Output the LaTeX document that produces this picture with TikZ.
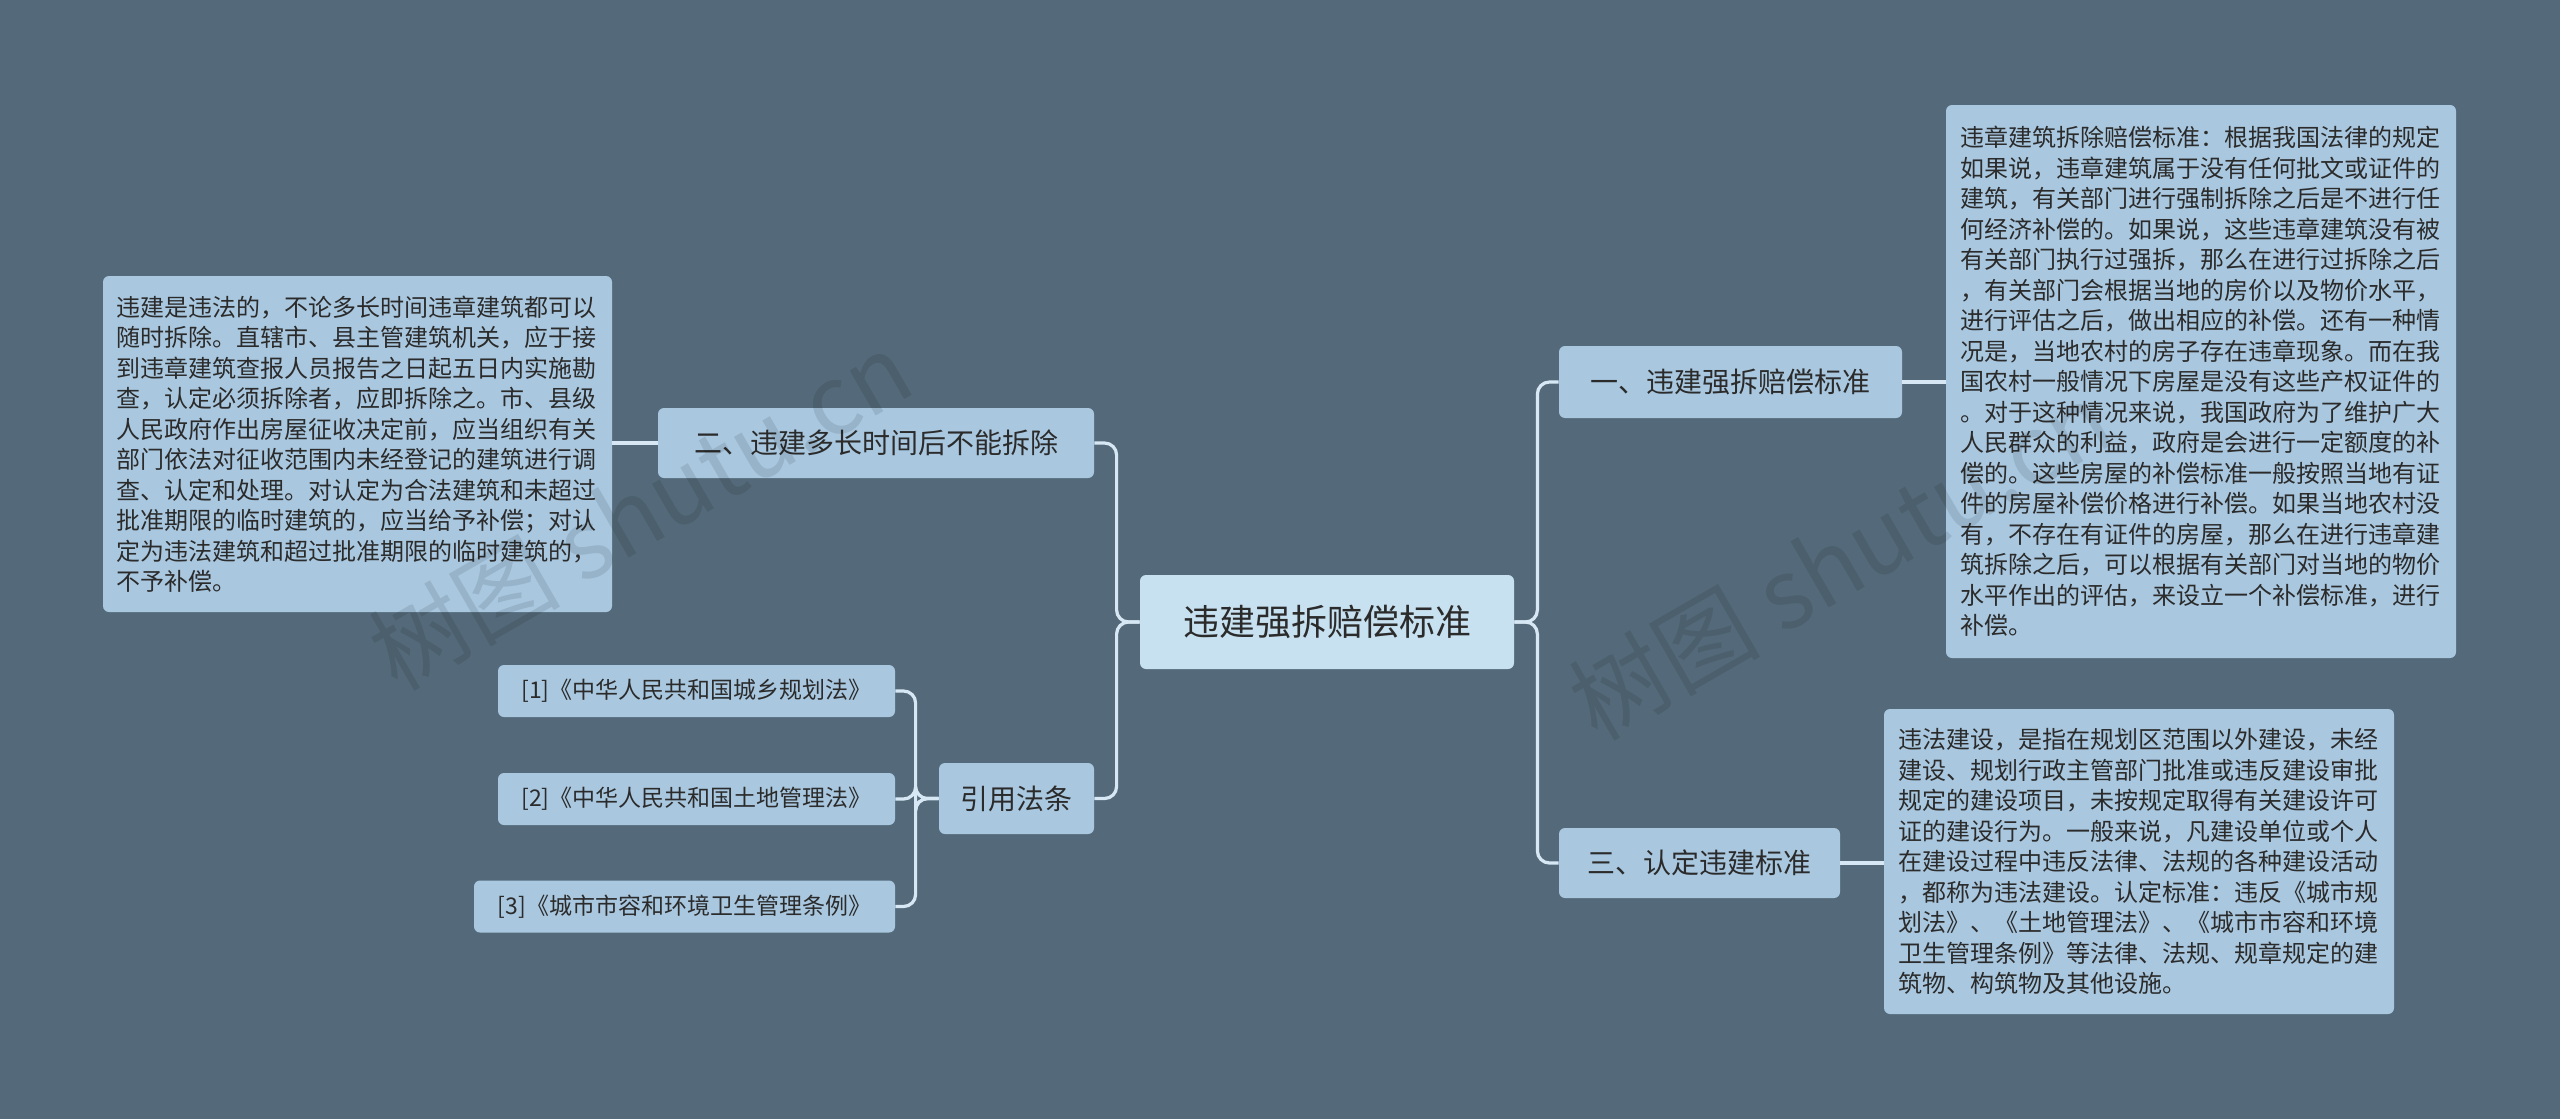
\documentclass[tikz,border=0pt]{standalone}
\usepackage{fontspec}
\setmainfont{Noto Sans CJK SC}
\begin{document}
\begin{tikzpicture}[x=0.5pt,y=-0.5pt,
  box/.style={fill=boxc,rounded corners=3pt,text=txt,inner sep=0pt,align=left},
  para/.style={box,font=\fontsize{12pt}{15.25pt}\selectfont,minimum width=255pt,text width=241pt},
  lab/.style={box,font=\fontsize{14pt}{17pt}\selectfont,align=center},
  ref/.style={box,font=\fontsize{11.5pt}{14pt}\selectfont,align=center,minimum height=26pt},
  conn/.style={draw=linec,line width=1.6pt,rounded corners=6pt},
  wm/.style={text=black,opacity=0.1,font=\fontsize{48pt}{48pt}\selectfont,rotate=30}]
\definecolor{bg}{HTML}{546A7A}
\definecolor{boxc}{HTML}{A9C8E0}
\definecolor{cen}{HTML}{C8E1F0}
\definecolor{linec}{HTML}{D7E8F4}
\definecolor{txt}{HTML}{2B2B2B}
\fill[bg] (0,0) rectangle (2560,1119);
\node[box,fill=cen,font=\fontsize{18pt}{22pt}\selectfont,minimum width=187pt,minimum height=47pt] (c) at (1327,622) {违建强拆赔偿标准};
\node[lab,minimum width=171.5pt,minimum height=36pt] (n1) at (1730.5,382) {一、违建强拆赔偿标准};
\node[lab,minimum width=140.5pt,minimum height=35pt] (n3) at (1699.5,863) {三、认定违建标准};
\node[lab,minimum width=218pt,minimum height=35pt] (n2) at (876,443) {二、违建多长时间后不能拆除};
\node[lab,minimum width=77.5pt,minimum height=35.5pt] (yl) at (1016.5,798.5) {引用法条};
\node[para,minimum height=276.5pt] (t1) at (2201,381.5) {违章建筑拆除赔偿标准：根据我国法律的规定\\如果说，违章建筑属于没有任何批文或证件的\\建筑，有关部门进行强制拆除之后是不进行任\\何经济补偿的。如果说，这些违章建筑没有被\\有关部门执行过强拆，那么在进行过拆除之后\\，有关部门会根据当地的房价以及物价水平，\\进行评估之后，做出相应的补偿。还有一种情\\况是，当地农村的房子存在违章现象。而在我\\国农村一般情况下房屋是没有这些产权证件的\\。对于这种情况来说，我国政府为了维护广大\\人民群众的利益，政府是会进行一定额度的补\\偿的。这些房屋的补偿标准一般按照当地有证\\件的房屋补偿价格进行补偿。如果当地农村没\\有，不存在有证件的房屋，那么在进行违章建\\筑拆除之后，可以根据有关部门对当地的物价\\水平作出的评估，来设立一个补偿标准，进行\\补偿。};
\node[para,minimum height=152.5pt] (t3) at (2139,861.5) {违法建设，是指在规划区范围以外建设，未经\\建设、规划行政主管部门批准或违反建设审批\\规定的建设项目，未按规定取得有关建设许可\\证的建设行为。一般来说，凡建设单位或个人\\在建设过程中违反法律、法规的各种建设活动\\，都称为违法建设。认定标准：违反《城市规\\划法》、《土地管理法》、《城市市容和环境\\卫生管理条例》等法律、法规、规章规定的建\\筑物、构筑物及其他设施。};
\node[para,minimum width=254.5pt,minimum height=168pt] (t2) at (357.5,444) {违建是违法的，不论多长时间违章建筑都可以\\随时拆除。直辖市、县主管建筑机关，应于接\\到违章建筑查报人员报告之日起五日内实施勘\\查，认定必须拆除者，应即拆除之。市、县级\\人民政府作出房屋征收决定前，应当组织有关\\部门依法对征收范围内未经登记的建筑进行调\\查、认定和处理。对认定为合法建筑和未超过\\批准期限的临时建筑的，应当给予补偿；对认\\定为违法建筑和超过批准期限的临时建筑的，\\不予补偿。};
\node[ref,minimum width=198.5pt] (r1) at (696.5,691) {[1]《中华人民共和国城乡规划法》};
\node[ref,minimum width=198.5pt] (r2) at (696.5,799) {[2]《中华人民共和国土地管理法》};
\node[ref,minimum width=210.5pt] (r3) at (684.5,906.5) {[3]《城市市容和环境卫生管理条例》};
\node[wm] (w1) at (640,510) {树图 shutu.cn};
\node[wm] (w2) at (1840,560) {树图 shutu.cn};
\draw[conn] (c.east) -- ++(23,0) |- (n1.west);
\draw[conn] (c.east) -- ++(23,0) |- (n3.west);
\draw[conn] (c.west) -- ++(-23,0) |- (n2.east);
\draw[conn] (c.west) -- ++(-23,0) |- (yl.east);
\draw[conn] (yl.west) -- ++(-23,0) |- (r1.east);
\draw[conn] (yl.west) -- ++(-23,0) |- (r2.east);
\draw[conn] (yl.west) -- ++(-23,0) |- (r3.east);
\draw[conn] (n1.east) -- (t1.west |- n1.east);
\draw[conn] (n3.east) -- (t3.west |- n3.east);
\draw[conn] (n2.west) -- (t2.east |- n2.west);
\end{tikzpicture}
\end{document}
